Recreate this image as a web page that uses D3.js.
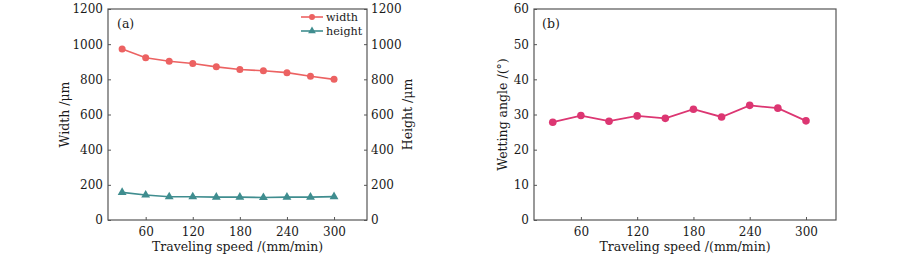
<!DOCTYPE html>
<html>
<head>
<meta charset="utf-8">
<script src="https://cdn.jsdelivr.net/npm/d3@7"></script>
<style>
  body { margin: 0; background: #fff; }
  svg text { font-family: "DejaVu Serif", serif; fill: #1a1a1a; }
</style>
</head>
<body>
<svg width="900" height="259"></svg>
<script>
const speeds = [30, 60, 90, 120, 150, 180, 210, 240, 270, 300];
const widthVals = [973, 923, 903, 890, 871, 856, 849, 838, 818, 800];
const heightVals = [157, 142, 132, 132, 130, 130, 128, 130, 130, 133];
const angleVals = [27.8, 29.7, 28.1, 29.6, 28.9, 31.5, 29.3, 32.6, 31.8, 28.2];
const xTicks = [60, 120, 180, 240, 300];
const umTicks = [0, 200, 400, 600, 800, 1000, 1200];
const angleTicks = [0, 10, 20, 30, 40, 50, 60];

const axisColor = "#555";
const fs = 12;
const svg = d3.select("svg");

function frame(g, x0, x1, y0, y1) {
  g.append("rect")
    .attr("x", x0).attr("y", y0)
    .attr("width", x1 - x0).attr("height", y1 - y0)
    .attr("fill", "none").attr("stroke", axisColor).attr("stroke-width", 1.2);
}

function styleAxis(sel) {
  sel.select(".domain").remove();
  sel.selectAll(".tick line").attr("stroke", axisColor).attr("stroke-width", 1);
  sel.selectAll(".tick text").attr("font-size", fs).attr("fill", "#1a1a1a")
     .attr("font-family", "DejaVu Serif, serif");
}

// ---------- panel (a) ----------
const a = { left: 108, right: 367, top: 9, bottom: 220 };
const xa = d3.scaleLinear().domain([12, 342]).range([a.left, a.right]);
const ya = d3.scaleLinear().domain([0, 1200]).range([a.bottom, a.top]);
const ga = svg.append("g");

ga.append("g").attr("transform", `translate(0,${a.bottom})`)
  .call(d3.axisBottom(xa).tickValues(xTicks).tickFormat(d3.format("d")).tickSizeInner(-3).tickPadding(7))
  .call(styleAxis);
ga.append("g").attr("transform", `translate(${a.left},0)`)
  .call(d3.axisLeft(ya).tickValues(umTicks).tickFormat(d3.format("d")).tickSizeInner(-3).tickPadding(5))
  .call(styleAxis);
ga.append("g").attr("transform", `translate(${a.right},0)`)
  .call(d3.axisRight(ya).tickValues(umTicks).tickFormat(d3.format("d")).tickSizeInner(-3).tickPadding(4))
  .call(styleAxis);
frame(ga, a.left, a.right, a.top, a.bottom);

const lineA = (vals) => d3.line().x((d, i) => xa(speeds[i])).y(d => ya(d))(vals);

ga.append("path").attr("d", lineA(widthVals))
  .attr("fill", "none").attr("stroke", "#ec6262").attr("stroke-width", 1.6);
ga.selectAll(".wdot").data(widthVals).enter().append("circle")
  .attr("cx", (d, i) => xa(speeds[i])).attr("cy", d => ya(d))
  .attr("r", 3.5).attr("fill", "#ec6262");

const tri = d3.symbol().type(d3.symbolTriangle).size(34);
ga.append("path").attr("d", lineA(heightVals))
  .attr("fill", "none").attr("stroke", "#3f8d8f").attr("stroke-width", 1.6);
ga.selectAll(".hdot").data(heightVals).enter().append("path")
  .attr("d", tri)
  .attr("transform", (d, i) => `translate(${xa(speeds[i])},${ya(d)})`)
  .attr("fill", "#3f8d8f");

// legend
const legItems = [
  { name: "width", color: "#ec6262", mark: "circle" },
  { name: "height", color: "#3f8d8f", mark: "tri" }
];
legItems.forEach((it, i) => {
  const y = 17 + i * 14;
  ga.append("line").attr("x1", 301).attr("x2", 323).attr("y1", y).attr("y2", y)
    .attr("stroke", it.color).attr("stroke-width", 1.6);
  if (it.mark === "circle") {
    ga.append("circle").attr("cx", 312).attr("cy", y).attr("r", 3).attr("fill", it.color);
  } else {
    ga.append("path").attr("d", d3.symbol().type(d3.symbolTriangle).size(26))
      .attr("transform", `translate(312,${y})`).attr("fill", it.color);
  }
  ga.append("text").attr("x", 326).attr("y", y + 4).attr("font-size", 11.2).text(it.name);
});

ga.append("text").attr("x", 117).attr("y", 28).attr("font-size", fs + 0.5).text("(a)");
ga.append("text").attr("x", (a.left + a.right) / 2).attr("y", 251)
  .attr("text-anchor", "middle").attr("font-size", fs + 0.5).text("Traveling speed /(mm/min)");
ga.append("text").attr("transform", `translate(69,${(a.top + a.bottom) / 2}) rotate(-90)`)
  .attr("text-anchor", "middle").attr("font-size", fs + 0.5).text("Width /μm");
ga.append("text").attr("transform", `translate(412,${(a.top + a.bottom) / 2}) rotate(-90)`)
  .attr("text-anchor", "middle").attr("font-size", fs + 0.5).text("Height /μm");

// ---------- panel (b) ----------
const b = { left: 534, right: 836, top: 9, bottom: 220 };
const xb = d3.scaleLinear().domain([10, 332]).range([b.left, b.right]);
const yb = d3.scaleLinear().domain([0, 60]).range([b.bottom, b.top]);
const gb = svg.append("g");

gb.append("g").attr("transform", `translate(0,${b.bottom})`)
  .call(d3.axisBottom(xb).tickValues(xTicks).tickFormat(d3.format("d")).tickSizeInner(-3).tickPadding(7))
  .call(styleAxis);
gb.append("g").attr("transform", `translate(${b.left},0)`)
  .call(d3.axisLeft(yb).tickValues(angleTicks).tickFormat(d3.format("d")).tickSizeInner(-3).tickPadding(5))
  .call(styleAxis);
frame(gb, b.left, b.right, b.top, b.bottom);

gb.append("path")
  .attr("d", d3.line().x((d, i) => xb(speeds[i])).y(d => yb(d))(angleVals))
  .attr("fill", "none").attr("stroke", "#dc3672").attr("stroke-width", 1.8);
gb.selectAll(".adot").data(angleVals).enter().append("circle")
  .attr("cx", (d, i) => xb(speeds[i])).attr("cy", d => yb(d))
  .attr("r", 3.8).attr("fill", "#dc3672");

gb.append("text").attr("x", 542).attr("y", 28).attr("font-size", fs + 0.5).text("(b)");
gb.append("text").attr("x", (b.left + b.right) / 2).attr("y", 251)
  .attr("text-anchor", "middle").attr("font-size", fs + 0.5).text("Traveling speed /(mm/min)");
gb.append("text").attr("transform", `translate(507,${(b.top + b.bottom) / 2}) rotate(-90)`)
  .attr("text-anchor", "middle").attr("font-size", fs + 0.5).text("Wetting angle /(°)");
</script>
</body>
</html>
